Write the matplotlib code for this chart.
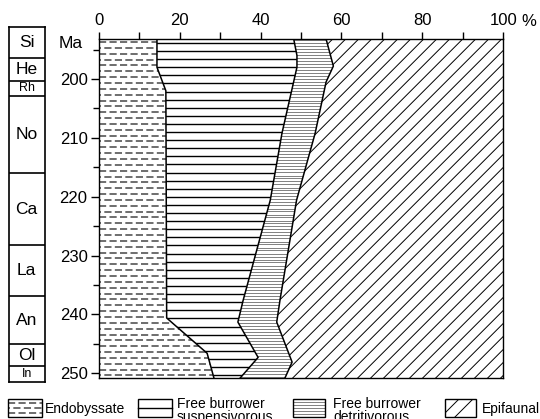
import numpy as np
import matplotlib
matplotlib.use("Agg")
import matplotlib.pyplot as plt
from matplotlib.patches import Polygon, Rectangle
from matplotlib.collections import LineCollection

plt.rcParams['font.family'] = ['Liberation Sans', 'DejaVu Sans']

# ================================
# DATA (cumulative % boundaries vs age in Ma)
# ================================
AGE_TOP, AGE_BOT = 193.2, 250.85

b1_ma = [193.2, 198.0, 202.0, 240.6, 246.6, 250.85]
b1_pct = [14.4, 14.4, 16.6, 16.8, 26.8, 28.5]

b2_ma = [193.2, 196.0, 198.0, 209.2, 220.6, 237.6, 241.3, 247.3, 250.85]
b2_pct = [48.2, 49.0, 49.0, 45.3, 42.4, 35.7, 34.4, 39.4, 34.9]

b3_ma = [193.2, 197.8, 200.5, 209.2, 220.6, 237.6, 241.3, 248.1, 250.85]
b3_pct = [56.2, 58.0, 56.2, 53.5, 48.9, 44.8, 44.0, 47.8, 46.0]

stages = ['Si', 'He', 'Rh', 'No', 'Ca', 'La', 'An', 'Ol', 'In']
stage_bounds = [191.16, 196.4, 200.3, 202.9, 216.0, 228.2, 236.9, 245.1, 248.8, 251.48]
small_stages = ['Rh', 'In']

x_major = [0, 20, 40, 60, 80, 100]
x_minor = [10, 30, 50, 70, 90]
y_major = [200, 210, 220, 230, 240, 250]
y_minor = [195, 205, 215, 225, 235, 245]

legend_labels = [['Endobyssate'], ['Free burrower', 'suspensivorous'],
                 ['Free burrower', 'detritivorous'], ['Epifaunal']]

# ================================
# FIGURE
# ================================
FW, FH = 540, 419
fig = plt.figure(figsize=(FW / 100, FH / 100), dpi=100)

def px_axes(x0, y0, x1, y1):
    # pixel box (top-left origin) -> figure fraction
    return [x0 / FW, 1 - y1 / FH, (x1 - x0) / FW, (y1 - y0) / FH]

ax = fig.add_axes(px_axes(98.7, 39, 503.3, 378.3))
ax.set_xlim(0, 100)
ax.set_ylim(AGE_BOT, AGE_TOP)
AW, AH = 503.3 - 98.7, 378.3 - 39

ENDO_C, DETR_C = '#555555', '#808080'
DASH = (4.3, 2.0)


def layer(left_ma, left_pct, right_ma, right_pct):
    pts = np.vstack([np.column_stack([left_pct, left_ma]),
                     np.column_stack([right_pct, right_ma])[::-1]])
    p = Polygon(pts, closed=True, facecolor='white', edgecolor='none', zorder=1)
    ax.add_patch(p)
    return p


edge0_ma, edge0_pct = [AGE_TOP, AGE_BOT], [0, 0]
edge1_ma, edge1_pct = [AGE_TOP, AGE_BOT], [100, 100]

p_endo = layer(edge0_ma, edge0_pct, b1_ma, b1_pct)
p_susp = layer(b1_ma, b1_pct, b2_ma, b2_pct)
p_detr = layer(b2_ma, b2_pct, b3_ma, b3_pct)
p_epi = layer(b3_ma, b3_pct, edge1_ma, edge1_pct)


def hlines_px(spacing, phase, color, lw, clip, dashed=False):
    ys = np.arange(phase, AH, spacing)
    segs = [[(0, 1 - y / AH), (1, 1 - y / AH)] for y in ys]
    if dashed:
        styles = [(0, DASH) if i % 2 == 0 else (3.1, DASH) for i in range(len(ys))]
    else:
        styles = 'solid'
    lc = LineCollection(segs, colors=color, linewidths=lw, linestyles=styles,
                        transform=ax.transAxes, zorder=2)
    ax.add_collection(lc)
    lc.set_clip_path(clip)


def diag_px(spacing, color, lw, clip):
    cs = np.arange(-AH, AW + spacing, spacing)
    segs = [[(c / AW, 0), ((c + AH) / AW, 1)] for c in cs]
    lc = LineCollection(segs, colors=color, linewidths=lw, transform=ax.transAxes, zorder=2)
    ax.add_collection(lc)
    lc.set_clip_path(clip)


hlines_px(5.85, 3.0, ENDO_C, 1.2, p_endo, dashed=True)
hlines_px(8.1, 4.0, 'black', 1.0, p_susp)
hlines_px(3.0, 1.5, DETR_C, 0.7, p_detr)
diag_px(13.0, 'black', 0.7, p_epi)

for ma, pct in [(b1_ma, b1_pct), (b2_ma, b2_pct), (b3_ma, b3_pct)]:
    ax.plot(pct, ma, color='black', lw=1.1, zorder=3)

for s in ax.spines.values():
    s.set_linewidth(1.0)
    s.set_zorder(4)

ax.xaxis.tick_top()
ax.set_xticks(x_major)
ax.set_xticklabels([str(v) for v in x_major])
ax.set_xticks(x_minor, minor=True)
ax.set_yticks(y_major)
ax.set_yticks(y_minor, minor=True)
ax.tick_params(axis='x', which='both', direction='out', length=5, width=1.0,
               labelsize=12, pad=3, top=True, bottom=False)
ax.tick_params(axis='y', which='major', direction='out', length=6, width=1.0,
               labelsize=12, pad=2, left=True, right=False)
ax.tick_params(axis='y', which='minor', direction='out', length=4, width=1.0,
               left=True, right=False)

# ================================
# STAGE COLUMN
# ================================
cax = fig.add_axes(px_axes(9, 27, 44.5, 382))
cax.set_xlim(0, 1)
cax.set_ylim(stage_bounds[-1], stage_bounds[0])
cax.set_xticks([])
cax.set_yticks([])
for s in cax.spines.values():
    s.set_linewidth(1.2)
for b in stage_bounds[1:-1]:
    cax.axhline(b, color='black', lw=1.2)
for name, top, bot in zip(stages, stage_bounds[:-1], stage_bounds[1:]):
    fs = 9 if name in small_stages else 12.5
    cax.text(0.5, (top + bot) / 2, name, ha='center', va='center', fontsize=fs)

# ================================
# OVERLAY (labels, legend) in pixel coords
# ================================
lax = fig.add_axes([0, 0, 1, 1], facecolor='none')
lax.set_xlim(0, FW)
lax.set_ylim(FH, 0)
lax.axis('off')

lax.text(83, 44, 'Ma', ha='right', va='center', fontsize=12.5)
lax.text(521, 21, '%', ha='left', va='center', fontsize=12)

box_x = [8, 138, 293, 445]
box_w = [34, 34, 32, 31]
text_x = [45, 177, 333, 482]
by0, by1 = 399, 417

for i, (bx, bw) in enumerate(zip(box_x, box_w)):
    box = Rectangle((bx, by0), bw, by1 - by0, facecolor='white',
                    edgecolor='none', zorder=1)
    lax.add_patch(box)
    if i == 0:
        for k, yy in enumerate([403, 408, 413]):
            ln, = lax.plot([bx, bx + bw], [yy, yy], color=ENDO_C, lw=1.2,
                           linestyle=(0 if k % 2 == 0 else 3.1, DASH), zorder=2)
            ln.set_clip_path(box)
    elif i == 1:
        lax.plot([bx, bx + bw], [408, 408], color='black', lw=1.0, zorder=2)
    elif i == 2:
        for yy in np.arange(402, by1, 3.0):
            lax.plot([bx, bx + bw], [yy, yy], color=DETR_C, lw=0.7, zorder=2)
    else:
        for c in [bx - 4, bx + 10]:
            ln, = lax.plot([c, c + (by1 - by0)], [by1, by0], color='black', lw=0.7, zorder=2)
            ln.set_clip_path(box)
    lax.add_patch(Rectangle((bx, by0), bw, by1 - by0, facecolor='none',
                            edgecolor='black', lw=1.0, zorder=3))
    lines = legend_labels[i]
    if len(lines) == 1:
        lax.text(text_x[i], 412.5, lines[0], ha='left', va='baseline', fontsize=10)
    else:
        lax.text(text_x[i], 407.5, lines[0], ha='left', va='baseline', fontsize=10)
        lax.text(text_x[i], 421, lines[1], ha='left', va='baseline', fontsize=10)

plt.savefig("out.png", dpi=100)
